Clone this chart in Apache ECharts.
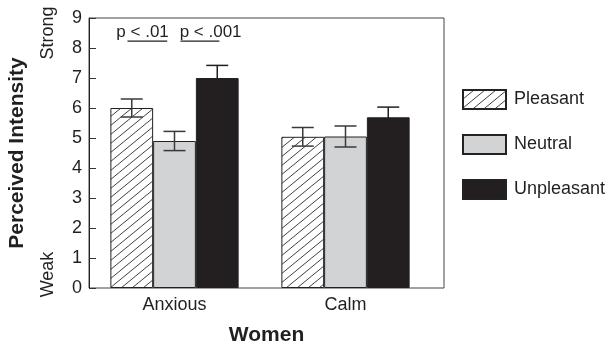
<!DOCTYPE html>
<html><head><meta charset="utf-8">
<script src="https://cdn.jsdelivr.net/npm/echarts@6/dist/echarts.min.js"></script>
<style>html,body{margin:0;padding:0;background:#fff}#c{width:609px;height:345px}</style>
</head><body><div id="c"></div>
<script>
const categories = ['Anxious', 'Calm'];
const seriesNames = ['Pleasant', 'Neutral', 'Unpleasant'];
const pleasant = [6.0, 5.04];
const neutral = [4.9, 5.05];
const unpleasant = [7.0, 5.69];
const pleasantErr = [0.30, 0.31];
const neutralErr = [0.32, 0.35];
const unpleasantErr = [0.42, 0.34];
const yMin = 0, yMax = 9, yStep = 1;
const scaleLabels = ['Strong', 'Weak'];
const sigLabels = ['p < .01', 'p < .001'];
const sigCategory = [0, 0];
const sigLineValue = [8.23, 8.23];
const sigTextValue = [8.53, 8.53];
const xTitle = 'Women';
const yTitle = 'Perceived Intensity';

// layout (in bar-width units from group left edge)
const sigLayout = [{t: 0.14, a: 0.40, b: 1.33}, {t: 1.62, a: 1.64, b: 2.55}];

const FONT = '"Liberation Sans", Arial, sans-serif';
const INK = '#231f20';

function hatch() {
  const w = 11, h = 9;
  const c = document.createElement('canvas');
  c.width = w; c.height = h;
  const g = c.getContext('2d');
  g.fillStyle = '#fff'; g.fillRect(0, 0, w, h);
  g.strokeStyle = '#2a2a2a'; g.lineWidth = 0.9;
  g.beginPath();
  g.moveTo(-w, 2 * h); g.lineTo(2 * w, -h);
  g.moveTo(-2 * w, 2 * h); g.lineTo(w, -h);
  g.moveTo(0, 2 * h); g.lineTo(3 * w, -h);
  g.stroke();
  return c;
}

const BAND_FILL = 0.75;
const values = [pleasant, neutral, unpleasant];
const errs = [pleasantErr, neutralErr, unpleasantErr];
const errData = [];
values.forEach((arr, si) => arr.forEach((v, ci) => errData.push([ci, si, v, errs[si][ci]])));
const sigData = sigLabels.map((l, i) => [sigCategory[i], sigLineValue[i], sigTextValue[i], i]);

const chart = echarts.init(document.getElementById('c'), null, {renderer: 'canvas'});
const fills = [{image: hatch(), repeat: 'repeat'}, '#d2d3d5', INK];

chart.setOption({
  animation: false,
  textStyle: {fontFamily: FONT},
  grid: [
    {left: 89, top: 18, right: 165, bottom: 57, show: true, borderColor: '#444', borderWidth: 1, backgroundColor: 'transparent', outerBoundsMode: 'none', containLabel: false},
    {left: 89, top: 18, right: 178, bottom: 57, outerBoundsMode: 'none', containLabel: false}
  ],
  legend: {
    data: seriesNames, orient: 'vertical', left: 462, top: 89, padding: 0,
    itemWidth: 43, itemHeight: 19, itemGap: 24, icon: 'rect',
    textStyle: {fontSize: 18, color: INK, fontFamily: FONT, lineHeight: 19, padding: [0, 0, 0, 3]}
  },
  xAxis: [
    {gridIndex: 0, type: 'value', min: 0, max: 1, name: xTitle, nameLocation: 'middle', nameGap: 37,
     nameTextStyle: {fontSize: 21, fontWeight: 'bold', color: INK, fontFamily: FONT},
     axisLine: {show: false}, axisTick: {show: false}, axisLabel: {show: false}, splitLine: {show: false}},
    {gridIndex: 1, type: 'category', data: categories,
     axisLine: {show: false}, axisTick: {show: false}, splitLine: {show: false},
     axisLabel: {fontSize: 18, color: INK, margin: 8, fontFamily: FONT}}
  ],
  yAxis: [
    {gridIndex: 0, type: 'value', min: yMin, max: yMax, show: false},
    {gridIndex: 1, type: 'value', min: yMin, max: yMax, interval: yStep,
     name: yTitle, nameLocation: 'middle', nameGap: 61, nameRotate: 90,
     nameTextStyle: {fontSize: 21, fontWeight: 'bold', color: INK, fontFamily: FONT},
     axisLine: {show: true, lineStyle: {color: '#222', width: 1}},
     axisTick: {show: true, inside: true, length: 7, lineStyle: {color: '#333'}},
     axisLabel: {fontSize: 18, color: INK, margin: 7, fontFamily: FONT},
     splitLine: {show: false}}
  ],
  series: [
    ...seriesNames.map((n, i) => ({
      name: n, type: 'bar', xAxisIndex: 1, yAxisIndex: 1, data: values[i],
      barGap: '0%', barCategoryGap: '25%',
      itemStyle: {color: fills[i], borderColor: '#222', borderWidth: 1}
    })),
    {
      name: 'err', type: 'custom', xAxisIndex: 1, yAxisIndex: 1, data: errData, z: 5,
      encode: {x: 0, y: 2},
      renderItem: function (params, api) {
        const ci = api.value(0), si = api.value(1), v = api.value(2), e = api.value(3);
        const band = api.size([1, 0])[0];
        const bw = band * BAND_FILL / 3;
        const c = api.coord([ci, v]);
        const x = c[0] + (si - 1) * bw;
        const top = api.coord([ci, v + e])[1], bot = api.coord([ci, v - e])[1];
        const hw = 11;
        const st = {stroke: si === 2 ? INK : '#3a3a3a', lineWidth: 1.5};
        return {type: 'group', children: [
          {type: 'line', shape: {x1: x, y1: top, x2: x, y2: bot}, style: st},
          {type: 'line', shape: {x1: x - hw, y1: top, x2: x + hw, y2: top}, style: st},
          {type: 'line', shape: {x1: x - hw, y1: bot, x2: x + hw, y2: bot}, style: st}
        ]};
      }
    },
    {
      name: 'sig', type: 'custom', xAxisIndex: 1, yAxisIndex: 1, data: sigData, z: 6,
      encode: {x: 0, y: 1},
      renderItem: function (params, api) {
        const ci = api.value(0), lv = api.value(1), tv = api.value(2), k = api.value(3);
        const band = api.size([1, 0])[0];
        const bw = band * BAND_FILL / 3;
        const cc = api.coord([ci, lv]);
        const left = cc[0] - band * BAND_FILL / 2;
        const ty = api.coord([ci, tv])[1];
        const L = sigLayout[k];
        return {type: 'group', children: [
          {type: 'line', shape: {x1: left + L.a * bw, y1: cc[1], x2: left + L.b * bw, y2: cc[1]}, style: {stroke: INK, lineWidth: 1.2}},
          {type: 'text', x: left + L.t * bw, y: ty, style: {text: sigLabels[k], fill: INK, font: '17px ' + FONT, textAlign: 'left', textVerticalAlign: 'middle'}}
        ]};
      }
    }
  ]
});

// Strong / Weak scale anchors on the y scale
const pStrong = chart.convertToPixel({gridIndex: 1}, [0, 8.5]);
const pWeak = chart.convertToPixel({gridIndex: 1}, [0, 0.45]);
chart.setOption({
  graphic: [
    {type: 'text', x: 48, y: pStrong[1], rotation: Math.PI / 2,
     style: {text: scaleLabels[0], fill: INK, font: '18px ' + FONT, textAlign: 'center', textVerticalAlign: 'middle'}},
    {type: 'text', x: 48, y: pWeak[1], rotation: Math.PI / 2,
     style: {text: scaleLabels[1], fill: INK, font: '18px ' + FONT, textAlign: 'center', textVerticalAlign: 'middle'}}
  ]
});
</script></body></html>
